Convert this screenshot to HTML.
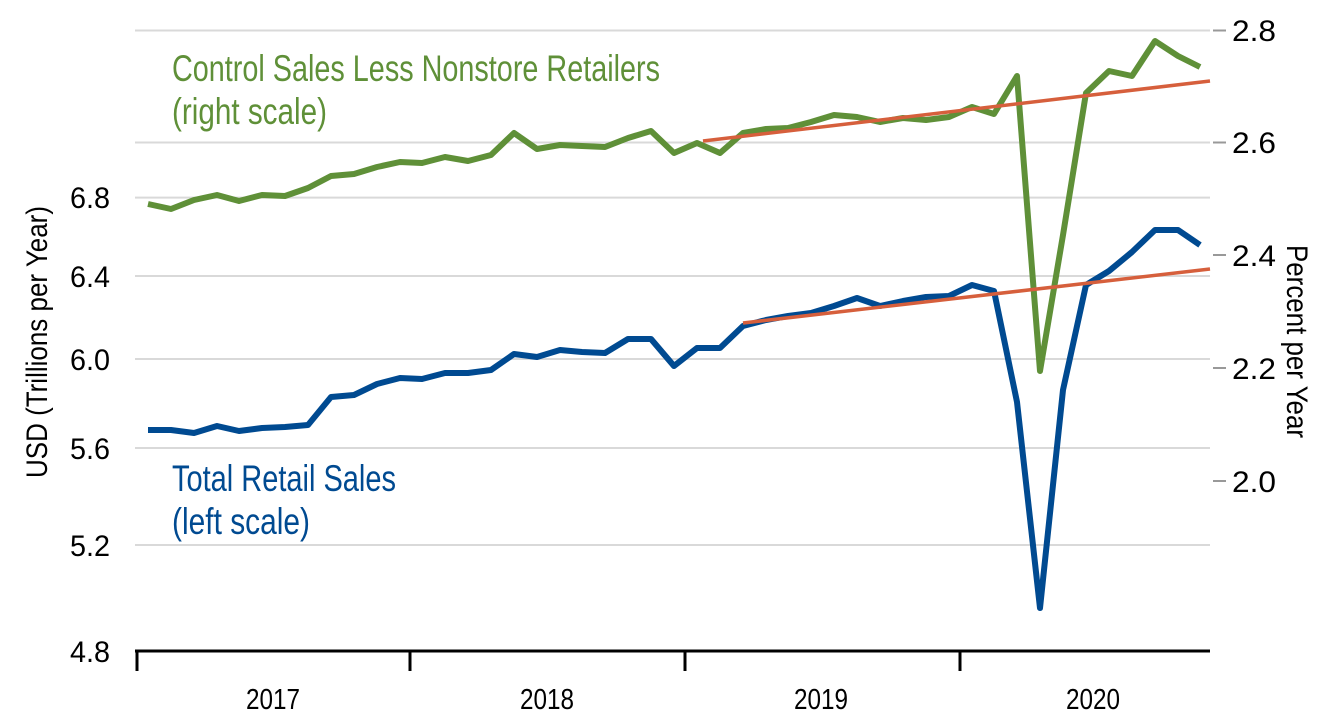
<!DOCTYPE html>
<html><head><meta charset="utf-8"><style>html,body{margin:0;padding:0;background:#fff}svg{display:block}</style></head>
<body>
<svg width="1334" height="726" viewBox="0 0 1334 726" xmlns="http://www.w3.org/2000/svg" font-family="Liberation Sans, sans-serif">
<g stroke="#d9d9d9" stroke-width="2">
<line x1="135" x2="1210" y1="30.5" y2="30.5"/><line x1="135" x2="1210" y1="142.5" y2="142.5"/>
<line x1="135" x2="1210" y1="197.6" y2="197.6"/><line x1="135" x2="1210" y1="276" y2="276"/>
<line x1="135" x2="1210" y1="359" y2="359"/><line x1="135" x2="1210" y1="448" y2="448"/>
<line x1="135" x2="1210" y1="545" y2="545"/>
</g>
<g stroke="#999" stroke-width="2">
<line x1="1213" x2="1226" y1="30.5" y2="30.5"/><line x1="1213" x2="1226" y1="142.5" y2="142.5"/>
<line x1="1213" x2="1226" y1="255" y2="255"/><line x1="1213" x2="1226" y1="368" y2="368"/>
<line x1="1213" x2="1226" y1="481" y2="481"/>
</g>
<g stroke="#000" stroke-width="3" fill="none">
<line x1="135" x2="1210" y1="651" y2="651"/>
<line x1="137" x2="137" y1="651" y2="671"/><line x1="410" x2="410" y1="651" y2="671"/>
<line x1="685" x2="685" y1="651" y2="671"/><line x1="960" x2="960" y1="651" y2="671"/>
</g>
<g font-size="30" fill="#000" text-anchor="end" lengthAdjust="spacingAndGlyphs">
<text x="110" y="208" textLength="40" lengthAdjust="spacingAndGlyphs">6.8</text><text x="110" y="287" textLength="40" lengthAdjust="spacingAndGlyphs">6.4</text>
<text x="110" y="370" textLength="40" lengthAdjust="spacingAndGlyphs">6.0</text><text x="110" y="459" textLength="40" lengthAdjust="spacingAndGlyphs">5.6</text>
<text x="110" y="556" textLength="40" lengthAdjust="spacingAndGlyphs">5.2</text><text x="110" y="662" textLength="40" lengthAdjust="spacingAndGlyphs">4.8</text>
</g>
<g font-size="30" fill="#000">
<text x="1232" y="41" textLength="44" lengthAdjust="spacingAndGlyphs">2.8</text><text x="1232" y="153" textLength="44" lengthAdjust="spacingAndGlyphs">2.6</text>
<text x="1232" y="266" textLength="44" lengthAdjust="spacingAndGlyphs">2.4</text><text x="1232" y="379" textLength="44" lengthAdjust="spacingAndGlyphs">2.2</text>
<text x="1232" y="492" textLength="44" lengthAdjust="spacingAndGlyphs">2.0</text>
</g>
<g font-size="29" fill="#000" text-anchor="middle">
<text x="273" y="709" textLength="54" lengthAdjust="spacingAndGlyphs">2017</text><text x="547" y="709" textLength="54" lengthAdjust="spacingAndGlyphs">2018</text>
<text x="821" y="709" textLength="54" lengthAdjust="spacingAndGlyphs">2019</text><text x="1093" y="709" textLength="54" lengthAdjust="spacingAndGlyphs">2020</text>
</g>
<text transform="translate(47,478) rotate(-90)" font-size="30" textLength="272" lengthAdjust="spacingAndGlyphs">USD (Trillions per Year)</text>
<text transform="translate(1287,245) rotate(90)" font-size="30" textLength="193" lengthAdjust="spacingAndGlyphs">Percent per Year</text>
<g fill="#5f9038" font-size="37">
<text x="172" y="81" textLength="488" lengthAdjust="spacingAndGlyphs">Control Sales Less Nonstore Retailers</text>
<text x="172" y="124" textLength="155" lengthAdjust="spacingAndGlyphs">(right scale)</text>
</g>
<g fill="#004a91" font-size="37">
<text x="172" y="491" textLength="224" lengthAdjust="spacingAndGlyphs">Total Retail Sales</text>
<text x="172" y="534" textLength="138" lengthAdjust="spacingAndGlyphs">(left scale)</text>
</g>
<polyline fill="none" stroke="#5f9038" stroke-width="6" stroke-linejoin="round" points="148,204 171,209 194,200 217,195 239,201 262,195 285,196 308,188 331,176 354,174 377,167 400,162 422,163 445,157 468,161 491,155 514,133 537,149 560,145 582,146 605,147 628,138 651,131 674,153 697,143 720,153 743,133 766,129 788,128 811,122 834,115 857,117 880,122 903,118 926,120 949,117 972,107 994,114 1017,76 1040,371 1063,235 1086,93 1109,71 1132,76 1155,41 1178,56 1200,67"/>
<polyline fill="none" stroke="#004a91" stroke-width="6" stroke-linejoin="round" points="148,430 171,430 194,433 217,426 239,431 262,428 285,427 308,425 331,397 354,395 377,384 400,378 422,379 445,373 468,373 491,370 514,354 537,357 560,350 582,352 605,353 628,339 651,339 674,366 697,348 720,348 743,326 766,320 788,316 811,313 834,306 857,298 880,306 903,301 926,297 949,296 972,285 994,291 1017,402 1040,608 1063,390 1086,285 1109,271 1132,252 1155,230 1178,230 1200,245"/>
<g stroke="#d65f3c" stroke-width="3.5">
<line x1="703" y1="141" x2="1210" y2="81"/>
<line x1="743" y1="323" x2="1210" y2="269"/>
</g>
</svg>
</body></html>
